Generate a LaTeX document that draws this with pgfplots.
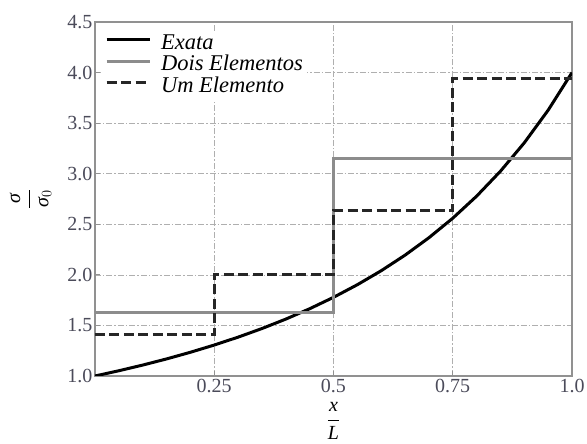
\documentclass[border=0pt]{standalone}
\usepackage{fontspec}
\setmainfont{Liberation Serif}
\usepackage{pgfplots}
\pgfplotsset{compat=1.18}
\definecolor{axgray}{RGB}{145,145,145}
\definecolor{gridgray}{RGB}{175,175,175}
\definecolor{dois}{RGB}{140,140,140}
\definecolor{tickc}{RGB}{75,75,90}
\begin{document}
\begin{tikzpicture}
\begin{axis}[
  name=ax,
  scale only axis,
  width=477pt, height=354pt,
  xmin=0, xmax=1, ymin=1, ymax=4.5,
  xtick={0.25,0.5,0.75,1.0},
  xticklabels={0.25,0.5,0.75,1.0},
  ytick={1.0,1.5,2.0,2.5,3.0,3.5,4.0,4.5},
  yticklabels={1.0,1.5,2.0,2.5,3.0,3.5,4.0,4.5},
  /pgf/number format/assume math mode=true,
  ticklabel style={font=\fontsize{20}{22}\selectfont, text=tickc},
  yticklabel style={xshift=1pt},
  axis line style={axgray, line width=2pt},
  tick style={axgray, line width=0.8pt},
  major tick length=5pt,
  tick align=inside,
  xtick pos=bottom, ytick pos=left,
  grid=major,
  grid style={gridgray, line width=0.7pt, dash pattern=on 6pt off 2pt on 1.5pt off 2pt},
  xlabel={$\displaystyle\frac{\textit{x}}{\textit{L}}$},
  ylabel={$\displaystyle\frac{\textit{σ}}{\textit{σ}_0}$},
  label style={font=\fontsize{20}{22}\selectfont},
  xlabel style={at={(axis description cs:0.5,0)}, anchor=center, yshift=-45pt},
  ylabel style={at={(axis description cs:-0.135,0.5)}, anchor=center},
  legend style={draw=none, fill=white, at={(axis description cs:0.012,0.975)}, anchor=north west,
    font=\fontsize{22.5}{22}\selectfont\itshape, row sep=0pt, column sep=10pt,
    inner xsep=4pt, inner ysep=3pt,
    nodes={inner sep=0pt, text height=15pt, text depth=6.5pt}},
  legend cell align=left,
  legend image code/.code={\draw[#1] (0pt,5pt) -- (43pt,5pt);},
]
\addplot[black, line width=3pt] coordinates {
(0,1) (0.05,1.0519) (0.1,1.1080) (0.15,1.1687) (0.2,1.2346) (0.25,1.3061)
(0.3,1.3841) (0.35,1.4692) (0.4,1.5625) (0.45,1.6649) (0.5,1.7778)
(0.55,1.9025) (0.6,2.0408) (0.65,2.1948) (0.7,2.3669) (0.75,2.56)
(0.8,2.7778) (0.85,3.0246) (0.9,3.3058) (0.95,3.6281) (1.0,4.0)
};
\addlegendentry{Exata}
\addplot[dois, line width=3pt] coordinates {
(0,1.625) (0.5,1.625) (0.5,3.15) (1.0,3.15)
};
\addlegendentry{Dois Elementos}
\addplot[black!85, line width=3.2pt, dash pattern=on 10pt off 4.5pt] coordinates {
(0,1.41) (0.25,1.41) (0.25,2.0) (0.5,2.0) (0.5,2.64) (0.75,2.64) (0.75,3.94) (1.0,3.94)
};
\addlegendentry{Um Elemento}
\end{axis}
\pgfresetboundingbox
\path[use as bounding box] ([shift={(-95pt,-68pt)}]ax.south west) rectangle ([shift={(15pt,22pt)}]ax.north east);
\end{tikzpicture}
\end{document}
